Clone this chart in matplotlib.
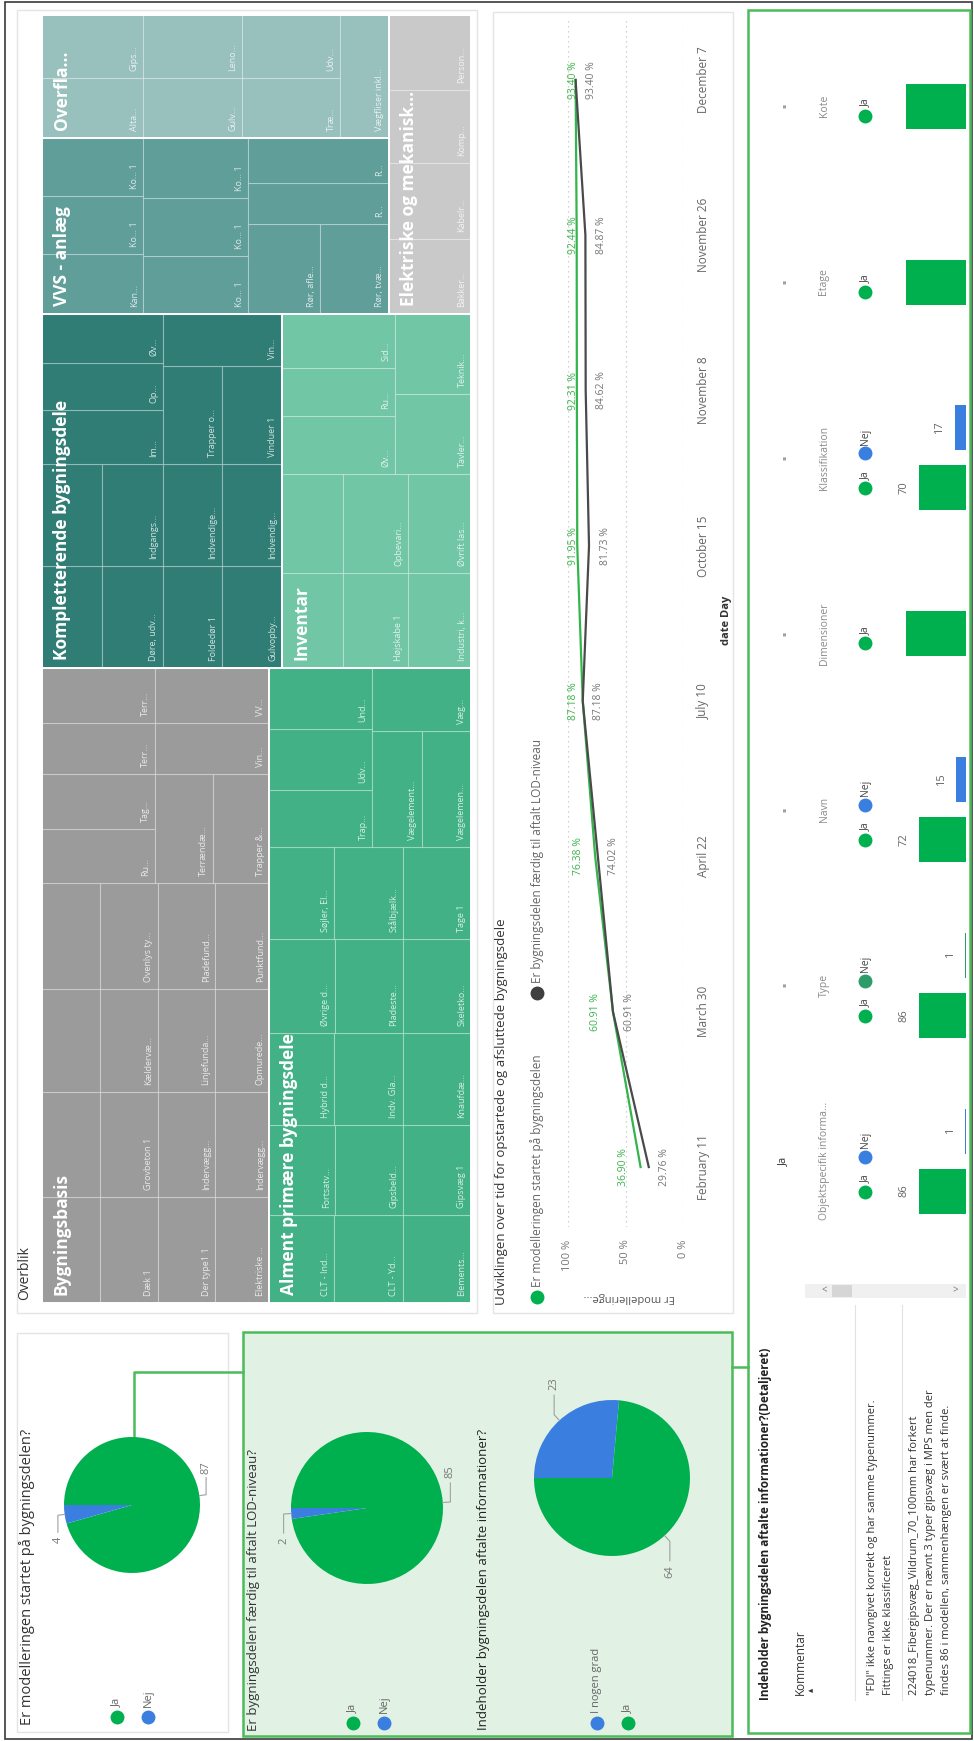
import matplotlib
matplotlib.use('Agg')
import matplotlib.pyplot as plt
from matplotlib.patches import Rectangle
import numpy as np

plt.rcParams['font.family'] = ['Open Sans', 'DejaVu Sans']

W, H = 974, 1741

# ---------------- data ----------------
# treemap groups: nested lists of (label, value), each nesting level flips the split direction
bygningsbasis = [
    [('', 61), ('Dæk 1', 61), ('Der type1 1', 61), ('Elektriske ...', 57)],
    [('', 61), ('Grovbeton 1', 61), ('Indervægg...', 61), ('Indervægg...', 57)],
    [('', 60), ('Kældervæ...', 59), ('Linjefunda...', 59), ('Opmurede...', 56)],
    [('', 61), ('Ovenlys ty...', 61), ('Pladefund...', 61), ('Punktfund...', 57)],
    [[('Ru...', 61), ('Tag...', 62)], ('Terrændæ...', 63), ('Trapper &...', 62)],
    [[('Terr...', 58), ('Terr...', 62)], [('Vin...', 59), ('VV...', 63)]],
]
alment = [
    [('CLT - Ind...', 57), ('CLT - Yd...', 60), ('Elements...', 60)],
    [('Fortsatv...', 59), ('Gipsbeld...', 61), ('Gipsvæg 1', 61)],
    [('Hybrid d...', 60), ('Indv. Gla...', 63), ('Knaufdæ...', 63)],
    [('Øvrige d...', 61), ('Pladeste...', 64), ('Skeletko...', 64)],
    [('Søjler, El...', 60), ('Stålbjælk...', 63), ('Tage 1', 63)],
    [[('Trap...', 58), ('Udv...', 63), ('Und...', 62)],
     [[('Vægelement...', 58), ('Vægelemen...', 57)], ('Væg...', 62)]],
]
kompletterende = [
    [('', 61), ('Døre, udv...', 62), ('Foldedør 1', 60), ('Gulvopby...', 61)],
    [('', 61), ('Indgangs...', 62), ('Indvendige...', 60), ('Indvendig...', 61)],
    [[('Im...', 65), ('Op...', 57), ('Øv...', 59)],
     [[('Trapper o...', 58), ('Vinduer 1', 59)], ('Vin...', 62)]],
]
inventar = [
    [('', 58), ('Højskabe 1', 62), ('Industri, k...', 60)],
    [('', 60), ('Opbevari...', 64), ('Øvrift las...', 62)],
    [[('Øv...', 66), ('Ru...', 54), ('Sid...', 61)], [('Tavler...', 61), ('Teknik...', 61)]],
]
vvs = [
    [('Kan...', 61), ('Ko... 1', 59), ('Ko... 1', 58)],
    [('Ko... 1', 61), ('Ko... 1', 61), ('Ko... 1', 62)],
    [[('Rør, afle...', 65), ('Rør, tvæ...', 62)], ('R...', 58), ('R...', 62)],
]
overflader = [
    [('Alta...', 61), ('Gips...', 64)],
    [('Gulv...', 60), ('Leno...', 62)],
    [('Træ...', 59), ('Udv...', 62)],
    ('Vægfliser inkl...', 60),
]
elektriske = [('Bakker...', 62), ('Kabelr...', 62), ('Komp...', 60), ('Person...', 62)]

groups = [
    ('Bygningsbasis', '#9b9b9b', bygningsbasis),
    ('Alment primære bygningsdele', '#42b186', alment),
    ('Kompletterende bygningsdele', '#2f7d75', kompletterende),
    ('Inventar', '#70c6a5', inventar),
    ('VVS - anlæg', '#609e99', vvs),
    ('Overfla...', '#98c0bd', overflader),
    ('Elektriske og mekanisk...', '#c9c9c9', elektriske),
]
arrangement = [[0, 1], [2, 3], [[4, 5], 6]]

# line chart
dates = ['February 11', 'March 30', 'April 22', 'July 10', 'October 15',
         'November 8', 'November 26', 'December 7']
started = [36.90, 60.91, 76.38, 87.18, 91.95, 92.31, 92.44, 93.40]
finished = [29.76, 60.91, 74.02, 87.18, 81.73, 84.62, 84.87, 93.40]

# pies
pie1_vals = [87, 4]
pie2_vals = [85, 2]
pie3_vals = [23, 64]

# small multiples
sm_names = ['Objektspecifik informa...', 'Type', 'Navn', 'Dimensioner',
            'Klassifikation', 'Etage', 'Kote']
sm_titles = ['Ja', '▪', '▪', '▪', '▪', '▪', '▪']
sm_ja = [86, 86, 72, 87, 70, 87, 87]
sm_nej = [1, 1, 15, 0, 17, 0, 0]
sm_labels = [True, True, True, False, True, False, False]

comments = [
    ['"FDI" ikke navngivet korrekt og har samme typenummer.',
     'Fittings er ikke klassificeret'],
    ['224018_Fibergipsvæg_Vildrum_70_100mm har forkert',
     'typenummer. Der er nævnt 3 typer gipsvæg i MPS men der',
     'findes 86 i modellen, sammenhængen er svært at finde.'],
]

GREEN = '#00b04f'
BLUE = '#3a7fe0'
TEAL = '#2e9c6a'
BORDER_GREEN = '#4cbb5a'

fig = plt.figure(figsize=(W / 100, H / 100), dpi=100)


def ax_px(x0, y0, x1, y1):
    return fig.add_axes([x0 / W, 1 - y1 / H, (x1 - x0) / W, (y1 - y0) / H])


def vtext(ax, x, y, s, **kw):
    # text reading bottom-to-top, starting at (x, y)
    kw.setdefault('ha', 'left')
    ax.text(x, y, s, rotation=90, rotation_mode='anchor', va='center', **kw)


bg = ax_px(0, 0, W, H)
bg.set_xlim(0, W)
bg.set_ylim(H, 0)
bg.axis('off')

# panels
bg.add_patch(Rectangle((4.5, 1.5), 967, 1737, fill=False, ec='#3a3a3a', lw=1.2))
bg.add_patch(Rectangle((17, 10), 460, 1303, fc='white', ec='#e4e4e4', lw=1))
bg.add_patch(Rectangle((493, 12), 240, 1301, fc='white', ec='#e4e4e4', lw=1))
bg.add_patch(Rectangle((17, 1333), 211, 399, fc='white', ec='#e4e4e4', lw=1))
bg.add_patch(Rectangle((243, 1332), 489, 404, fc='#e1f2e4', ec=BORDER_GREEN, lw=1.8))
bg.add_patch(Rectangle((748, 10), 222, 1723, fc='white', ec=BORDER_GREEN, lw=1.8))
bg.plot([134, 134, 243], [1437, 1372, 1372], color=BORDER_GREEN, lw=1.8)
bg.plot([732, 748], [1367, 1367], color=BORDER_GREEN, lw=1.8)

# ---------------- treemap ----------------
def total(node):
    if isinstance(node, tuple):
        return node[1]
    if isinstance(node, int):
        return total(groups[node][2])
    return sum(total(c) for c in node)


cells, group_rects = [], []


def layout(node, u0, v0, u1, v1, depth, color=None):
    if isinstance(node, tuple):
        cells.append((node[0], color, u0, v0, u1, v1))
        return
    if isinstance(node, int):
        name, col, content = groups[node]
        group_rects.append((name, col, u0, v0, u1, v1))
        layout(content, u0, v0, u1, v1, depth, col)
        return
    tot = sum(total(c) for c in node)
    pu, pv = u0, v0
    for c in node:
        f = total(c) / tot
        if depth % 2 == 0:
            nu = pu + (u1 - u0) * f
            layout(c, pu, v0, nu, v1, depth + 1, color)
            pu = nu
        else:
            nv = pv + (v1 - v0) * f
            layout(c, u0, pv, u1, nv, depth + 1, color)
            pv = nv


TU, TV = 1288, 429
layout(arrangement, 0, 0, TU, TV, 0)

tm = ax_px(42, 15, 42 + TV, 15 + TU)
tm.set_xlim(0, TV)
tm.set_ylim(0, TU)
tm.axis('off')
for label, col, u0, v0, u1, v1 in cells:
    tm.add_patch(Rectangle((v0, u0), v1 - v0, u1 - u0, fc=col,
                           ec=(1, 1, 1, 0.25), lw=0.8))
    if label:
        vtext(tm, v1 - 9, u0 + 7, label, fontsize=6.5, color='white', alpha=0.78)
for name, col, u0, v0, u1, v1 in group_rects:
    tm.add_patch(Rectangle((v0, u0), v1 - v0, u1 - u0, fill=False, ec='white', lw=1.4))
    vtext(tm, v0 + 20, u0 + 8, name, fontsize=12.5, color='white', fontweight='bold')

vtext(bg, 25, 1300, 'Overblik', fontsize=10, color='#333333')

# ---------------- line chart ----------------
lax = ax_px(568, 20, 683, 1227)
pos = np.arange(len(dates))
lax.plot(started, pos, color='#34b44c', lw=1.6)
lax.plot(finished, pos, color='#4a4a4a', lw=1.6)
lax.set_xlim(100, 0)
lax.set_ylim(-0.386, len(dates) - 1 + 0.386)
lax.set_xticks([0, 50, 100])
lax.set_xticklabels(['0 %', '50 %', '100 %'], rotation=90, fontsize=8, color='#777777')
lax.set_yticks(pos)
lax.set_yticklabels(dates, rotation=90, fontsize=8.5, color='#666666', va='center')
lax.yaxis.tick_right()
lax.tick_params(axis='x', length=0, pad=9)
lax.tick_params(axis='y', length=0, pad=10)
lax.grid(axis='x', ls=(0, (1, 3)), color='#c4c4c4', lw=0.9)
lax.set_axisbelow(True)
for s in lax.spines.values():
    s.set_visible(False)
lax.patch.set_alpha(0)
for i, v in enumerate(started):
    lax.text(min(v + 14.8, 95.5), i, f'{v:.2f} %', rotation=90, ha='center', va='center',
             fontsize=7.5, color='#3cb44b')
for i, v in enumerate(finished):
    lax.text(v - 14, i, f'{v:.2f} %', rotation=90, ha='center', va='center',
             fontsize=7.5, color='#777777')

vtext(bg, 502, 1305, 'Udviklingen over tid for opstartede og afsluttede bygningsdele',
      fontsize=9.5, color='#333333')
bg.plot([537], [1297], 'o', ms=9, color=GREEN)
vtext(bg, 537, 1287, 'Er modelleringen startet på bygningsdelen', fontsize=8.5, color='#666666')
bg.plot([537], [993], 'o', ms=9, color='#3f3f3f')
vtext(bg, 537, 983, 'Er bygningsdelen færdig til aftalt LOD-niveau', fontsize=8.5, color='#666666')
bg.text(629, 1297, 'Er modelleringe...', rotation=180, ha='center', va='center',
        fontsize=8, color='#555555')
bg.text(727, 620, 'date Day', rotation=90, ha='center', va='center', fontsize=8,
        fontweight='bold', color='#333333')

# ---------------- pies ----------------
def pie(cx, cy, r, values, colors):
    ax = ax_px(cx - r, cy - r, cx + r, cy + r)
    wedges, _ = ax.pie(values, colors=colors, startangle=180, counterclock=False,
                       wedgeprops=dict(linewidth=0))
    ax.set_xlim(-1, 1)
    ax.set_ylim(-1, 1)
    ax.axis('off')
    for w, v in zip(wedges, values):
        a = np.deg2rad((w.theta1 + w.theta2) / 2)
        sgn = 1 if np.sin(a) >= 0 else -1
        x1, y1 = 1.1 * np.cos(a), 1.1 * np.sin(a)
        y2 = y1 + sgn * 0.25
        ax.plot([np.cos(a), x1, x1], [np.sin(a), y1, y2], color='#a0a0a0', lw=0.8,
                clip_on=False)
        ax.text(x1, y2 + sgn * 0.06, str(v), rotation=90, rotation_mode='anchor',
                ha='left' if sgn > 0 else 'right', va='center', fontsize=8,
                color='#777777', clip_on=False)


def legend(x, y, entries):
    for col, txt in entries:
        bg.plot([x], [y], 'o', ms=9, color=col)
        vtext(bg, x, y - 10, txt, fontsize=8, color='#666666')
        x += 31


pie(132, 1505, 68, pie1_vals, [GREEN, BLUE])
vtext(bg, 27, 1725, 'Er modelleringen startet på bygningsdelen?', fontsize=10.5, color='#333333')
legend(117, 1717, [(GREEN, 'Ja'), (BLUE, 'Nej')])

pie(367, 1508, 76, pie2_vals, [GREEN, BLUE])
vtext(bg, 254, 1731, 'Er bygningsdelen færdig til aftalt LOD-niveau?', fontsize=9.5, color='#333333')
legend(353, 1723, [(GREEN, 'Ja'), (BLUE, 'Nej')])

pie(612, 1478, 78, pie3_vals, [BLUE, GREEN])
vtext(bg, 483, 1730, 'Indeholder bygningsdelen aftalte informationer?', fontsize=9.5,
      color='#222222')
legend(597, 1723, [(BLUE, 'I nogen grad'), (GREEN, 'Ja')])

# ---------------- small multiples ----------------
vtext(bg, 766, 1700, 'Indeholder bygningsdelen aftalte informationer?(Detaljeret)',
      fontsize=8.5, color='#222222', fontweight='bold')
step = 175.8
for k, name in enumerate(sm_names):
    cy = 1161 - step * k
    vals = [sm_ja[k]] + ([sm_nej[k]] if sm_nej[k] else [])
    cols = [GREEN, TEAL if name == 'Type' else BLUE][:len(vals)]
    bax = ax_px(896, cy - step / 2, 966, cy + step / 2)
    p = np.arange(len(vals))
    bax.barh(p, vals, height=0.75, color=cols)
    xmax = max(vals) * (1.49 if sm_labels[k] else 1.17)
    bax.set_xlim(xmax, 0)
    mid = (len(vals) - 1) / 2
    bax.set_ylim(mid - 1.465, mid + 1.465)
    bax.axis('off')
    if sm_labels[k]:
        for pp, v in zip(p, vals):
            bax.text(v + 15 * xmax / 70, pp, str(v), rotation=90, ha='center', va='center',
                     fontsize=8, color='#666666')
    bg.text(784, cy, sm_titles[k], rotation=90, ha='center', va='center',
            fontsize=8 if k == 0 else 4.5, color='#333333' if k == 0 else '#a0a0a0')
    bg.text(824, cy, name, rotation=90, ha='center', va='center', fontsize=7.5,
            color='#8a8a8a')
    ents = [(GREEN, 'Ja')] + ([(cols[1], 'Nej')] if len(vals) > 1 else [])
    width = 28 if len(ents) == 1 else 70
    y = cy + width / 2
    for col, txt in ents:
        bg.plot([865], [y - 4.5], 'o', ms=9, color=col)
        vtext(bg, 865, y - 13, txt, fontsize=7.5, color='#444444')
        y -= 13 + (10 if txt == 'Ja' else 16) + 12

# ---------------- comments table ----------------
vtext(bg, 800, 1695, 'Kommentar', fontsize=8.5, color='#333333')
bg.text(812, 1690, '▲', rotation=90, ha='center', va='center', fontsize=4, color='#333333')
bg.add_patch(Rectangle((805, 1284), 161, 14, fc='#f0f0f0', ec='none'))
bg.add_patch(Rectangle((832, 1285), 20, 12, fc='#d6d6d6', ec='none'))
bg.text(824, 1291, '<', ha='center', va='center', fontsize=7, color='#777777')
bg.text(955, 1291, '>', ha='center', va='center', fontsize=7, color='#777777')
bg.plot([855, 855], [1305, 1700], color='#e2e2e2', lw=0.8)
bg.plot([902, 902], [1305, 1700], color='#e2e2e2', lw=0.8)
x = 873
for row in comments:
    for line in row:
        vtext(bg, x, 1695, line, fontsize=8, color='#333333')
        x += 16
    x += 10

fig.savefig('out.png', dpi=100)
